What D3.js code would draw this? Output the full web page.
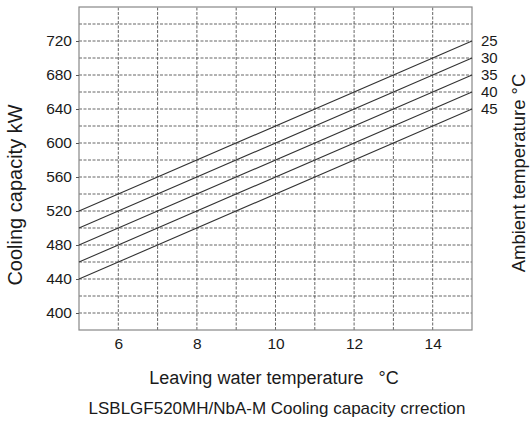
<!DOCTYPE html>
<html>
<head>
<meta charset="utf-8">
<script src="https://cdn.jsdelivr.net/npm/d3@7"></script>
<style>
  body { margin: 0; background: #fff; }
  text { font-family: "Liberation Sans", Arial, sans-serif; fill: #1a1a1a; }
</style>
</head>
<body>
<div id="chart_div"></div>
<script>
// ambient temperature curves, capacity at leaving water 5 and 15 C
var ambientTemps = ['25', '30', '35', '40', '45'];
var waterTemps = [5, 15];
var capacity25 = [520, 720];
var capacity30 = [500, 700];
var capacity35 = [480, 680];
var capacity40 = [460, 660];
var capacity45 = [440, 640];
var yTicks = [400, 440, 480, 520, 560, 600, 640, 680, 720];
var xTicks = [6, 8, 10, 12, 14];

var seriesValues = [capacity25, capacity30, capacity35, capacity40, capacity45];

var width = 530, height = 421;
var margin = {top: 7, right: 58, bottom: 91, left: 79};

var svg = d3.select("#chart_div")
			.append("svg")
			.attr("width", width)
			.attr("height", height);

var x = d3.scaleLinear().domain([5, 15]).range([margin.left, width - margin.right]);
var y = d3.scaleLinear().domain([380, 760]).range([height - margin.bottom, margin.top]);

// grid
var grid = svg.append('g')
		.attr('stroke', '#555')
		.attr('stroke-width', 0.9)
		.attr('stroke-dasharray', '3,1.5');

grid.selectAll('.hgrid')
	.data(d3.range(400, 760, 20))
	.enter()
	.append('line')
	.attr('x1', x(5)).attr('x2', x(15))
	.attr('y1', function(d) { return y(d); })
	.attr('y2', function(d) { return y(d); });

grid.selectAll('.vgrid')
	.data(d3.range(6, 15, 1))
	.enter()
	.append('line')
	.attr('y1', y(380)).attr('y2', y(760))
	.attr('x1', function(d) { return x(d); })
	.attr('x2', function(d) { return x(d); });

// frame
svg.append('rect')
	.attr('x', x(5))
	.attr('y', y(760))
	.attr('width', x(15) - x(5))
	.attr('height', y(380) - y(760))
	.attr('fill', 'none')
	.attr('stroke', '#888')
	.attr('stroke-width', 1.2);

// axes
var yAxis = svg.append('g')
		.attr('transform', 'translate(' + x(5) + ',0)')
		.call(d3.axisLeft(y).tickValues(yTicks).tickSize(3).tickPadding(4));
var xAxis = svg.append('g')
		.attr('transform', 'translate(0,' + y(380) + ')')
		.call(d3.axisBottom(x).tickValues(xTicks).tickSize(0).tickPadding(8));

[xAxis, yAxis].forEach(function(a) {
	a.select('.domain').remove();
	a.selectAll('line').attr('stroke', '#555');
	a.selectAll('text')
		.style('font-family', '"Liberation Sans", Arial, sans-serif')
		.style('font-size', '15.5px')
		.attr('fill', '#1a1a1a');
});

// capacity lines
var line = d3.line()
		.x(function(d, i) { return x(waterTemps[i]); })
		.y(function(d) { return y(d); });

svg.selectAll('.cap')
	.data(seriesValues)
	.enter()
	.append('path')
	.attr('class', 'cap')
	.attr('d', function(d) { return line(d); })
	.attr('fill', 'none')
	.attr('stroke', '#333')
	.attr('stroke-width', 1.1);

// right side labels
svg.selectAll('.amb')
	.data(seriesValues)
	.enter()
	.append('text')
	.attr('class', 'amb')
	.attr('x', x(15) + 9)
	.attr('y', function(d) { return y(d[d.length - 1]); })
	.attr('dy', '0.35em')
	.style('font-size', '15px')
	.text(function(d, i) { return ambientTemps[i]; });

// titles
svg.append('text')
	.attr('transform', 'translate(22,195) rotate(-90)')
	.attr('text-anchor', 'middle')
	.style('font-size', '20px')
	.text('Cooling capacity kW');

svg.append('text')
	.attr('transform', 'translate(525,173) rotate(-90)')
	.attr('text-anchor', 'middle')
	.style('font-size', '18.5px')
	.text('Ambient temperature \u00B0C');

svg.append('text')
	.attr('x', 274)
	.attr('y', 384)
	.attr('text-anchor', 'middle')
	.style('font-size', '18px')
	.style('white-space', 'pre')
	.text('Leaving water temperature   \u00B0C');

svg.append('text')
	.attr('x', 277)
	.attr('y', 414)
	.attr('text-anchor', 'middle')
	.style('font-size', '17px')
	.text('LSBLGF520MH/NbA-M Cooling capacity crrection');
</script>
</body>
</html>
